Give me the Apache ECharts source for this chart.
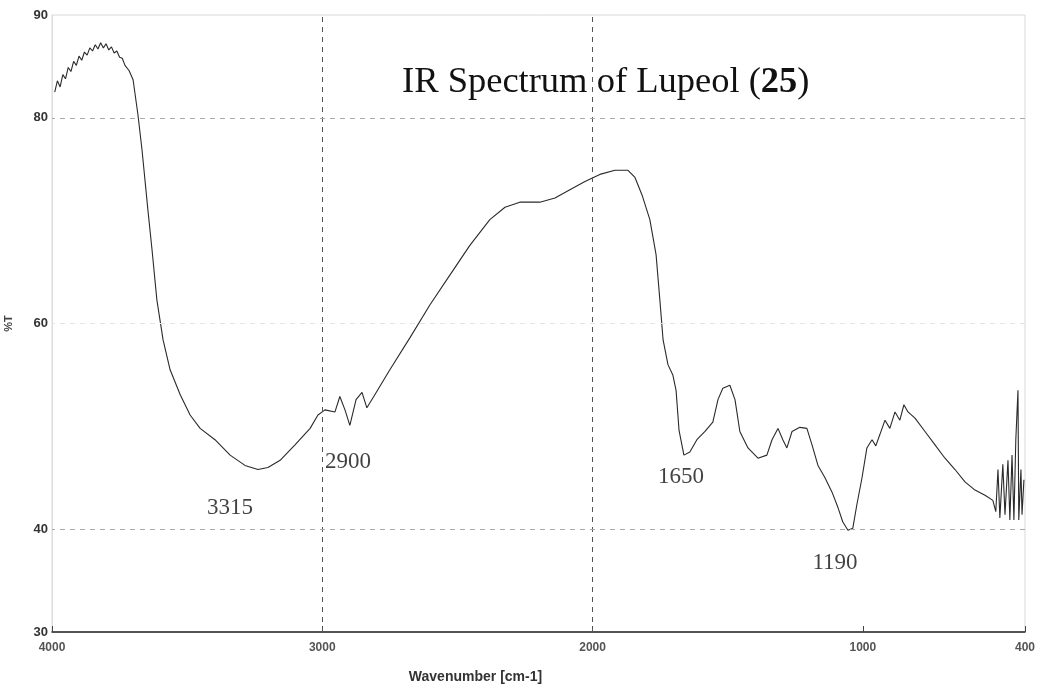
<!DOCTYPE html>
<html>
<head>
<meta charset="utf-8">
<script src="https://cdn.jsdelivr.net/npm/echarts@6/dist/echarts.min.js"></script>
<style>html,body{margin:0;padding:0;background:#fff}#c{width:1042px;height:693px}</style>
</head>
<body>
<div id="c"></div>
<script>
// ---- data ----
const wavenumbers = [3990,3980,3970,3960,3950,3940,3930,3920,3910,3900,3890,3880,3870,3860,3850,3840,3830,3820,3810,3800,3790,3780,3770,3760,3750,3740,3730,3715,3700,3682,3667,3645,3630,3612,3589,3563,3526,3489,3452,3397,3341,3286,3238,3201,3156,3101,3045,3016,2990,2953,2935,2916,2898,2875,2853,2835,2805,2750,2676,2602,2528,2454,2380,2324,2269,2195,2139,2084,2028,1973,1917,1869,1843,1817,1788,1765,1751,1739,1721,1703,1691,1680,1662,1640,1614,1584,1555,1536,1518,1492,1473,1455,1425,1388,1355,1336,1314,1296,1281,1262,1233,1207,1188,1166,1140,1114,1092,1074,1055,1037,1022,1003,985,966,952,937,918,900,881,863,848,833,807,770,733,696,659,622,585,548,519,508,500,493,482,474,463,456,448,441,434,426,423,415,411,404];
const transmittance = [82.5,83.6,83.0,84.2,83.8,84.9,84.5,85.5,85.1,86.0,85.6,86.4,86.1,86.8,86.5,87.1,86.7,87.3,86.8,87.2,86.6,86.9,86.3,86.5,85.9,85.8,85.1,84.6,83.7,80.3,76.9,71.0,67.2,62.3,58.4,55.5,53.1,51.1,49.8,48.7,47.2,46.2,45.8,46.0,46.7,48.2,49.8,51.1,51.6,51.4,52.9,51.6,50.1,52.6,53.3,51.8,53.1,55.5,58.6,61.8,64.7,67.6,70.1,71.3,71.8,71.8,72.2,73.0,73.8,74.5,74.9,74.9,74.2,72.5,70.1,66.7,62.3,58.4,56.0,55.0,53.5,49.6,47.2,47.5,48.7,49.5,50.4,52.6,53.7,54.0,52.6,49.5,47.9,46.9,47.2,48.7,49.8,48.7,47.9,49.5,49.9,49.8,48.2,46.2,45.0,43.6,42.1,40.7,39.9,40.1,42.4,45.0,47.9,48.7,48.1,49.2,50.6,49.8,51.4,50.6,52.1,51.4,50.8,49.5,48.2,46.9,45.8,44.6,43.8,43.3,42.8,41.7,45.8,41.1,46.3,41.4,46.7,40.9,47.2,40.9,48.7,53.5,40.9,45.8,41.4,44.8];
const xTicks = [4000, 3000, 2000, 1000, 400];
const yTicks = [30, 40, 60, 80, 90];
const vGrid = [3000, 2000];
const hGrid = [80, 60, 40];
const peakLabels = ['3315', '2900', '1650', '1190'];
const peakLabelPos = [[3341, 42.1], [2905, 46.5], [1673, 45.1], [1103, 36.7]];
const titleMain = 'IR Spectrum of Lupeol (';
const titleBold = '25';
const titleEnd = ')';
const xName = 'Wavenumber [cm-1]';
const yName = '%T';

// ---- chart ----
const chart = echarts.init(document.getElementById('c'), null, {renderer: 'canvas'});
const spectrum = wavenumbers.map((w, i) => [w, transmittance[i]]);
const serif = '"Liberation Serif","DejaVu Serif",serif';
chart.setOption({
  animation: false,
  backgroundColor: '#fff',
  title: {
    text: '{n|' + titleMain + '}{b|' + titleBold + '}{n|' + titleEnd + '}',
    left: 397, top: 59,
    textStyle: {
      fontWeight: 'normal',
      rich: {
        n: {fontFamily: serif, fontSize: 36.5, fontWeight: 'normal', color: '#111'},
        b: {fontFamily: serif, fontSize: 36.5, fontWeight: 'bold', color: '#111'}
      }
    }
  },
  grid: {left: 52, right: 17, top: 15, bottom: 61, show: true, borderColor: '#d8d8d8', borderWidth: 1, outerBoundsMode: 'none', containLabel: false},
  xAxis: {
    type: 'value', inverse: true, min: 400, max: 4000,
    name: xName, nameLocation: 'middle', nameGap: 38,
    nameTextStyle: {fontFamily: 'Liberation Sans, Arial, sans-serif', fontSize: 14, fontWeight: 'bold', color: '#333', padding: [0, 126, 0, 0]},
    axisLine: {show: true, onZero: false, lineStyle: {color: '#222', width: 1.5}},
    axisTick: {show: true, inside: true, length: 6, customValues: xTicks, lineStyle: {color: '#444'}},
    axisLabel: {customValues: xTicks, formatter: v => String(v), fontSize: 12, fontWeight: 'bold', color: '#555', margin: 10, fontFamily: 'Liberation Sans, Arial, sans-serif'},
    splitLine: {show: false}
  },
  yAxis: {
    type: 'value', min: 30, max: 90,
    name: yName, nameLocation: 'middle', nameGap: 38, nameRotate: 90,
    nameTextStyle: {fontSize: 11, fontWeight: 'bold', color: '#444'},
    axisLine: {show: true, lineStyle: {color: '#ddd', width: 1}},
    axisTick: {show: false},
    axisLabel: {customValues: yTicks, formatter: v => String(v), fontSize: 13, fontWeight: 'bold', color: '#333', margin: 4, fontFamily: 'Liberation Sans, Arial, sans-serif'},
    splitLine: {show: false}
  },
  series: [
    {
      type: 'line', data: spectrum, showSymbol: false, symbol: 'none',
      lineStyle: {color: '#2a2a2a', width: 1.1},
      markLine: {
        silent: true, symbol: 'none', label: {show: false},
        data: vGrid.map(v => ({xAxis: v, lineStyle: {color: '#555', type: [5, 5], width: 1}}))
          .concat(hGrid.map(v => ({yAxis: v, lineStyle: {color: v === 60 ? '#e4e4e4' : '#aaa', type: [5, 5], width: 1}})))
      },
      z: 3
    },
    {
      type: 'scatter', symbolSize: 0, silent: true,
      data: peakLabelPos.map((p, i) => ({value: p, name: peakLabels[i]})),
      label: {show: true, position: 'inside', formatter: d => d.name, fontFamily: serif, fontSize: 23, color: '#111'},
      z: 4
    }
  ]
});
</script>
</body>
</html>
